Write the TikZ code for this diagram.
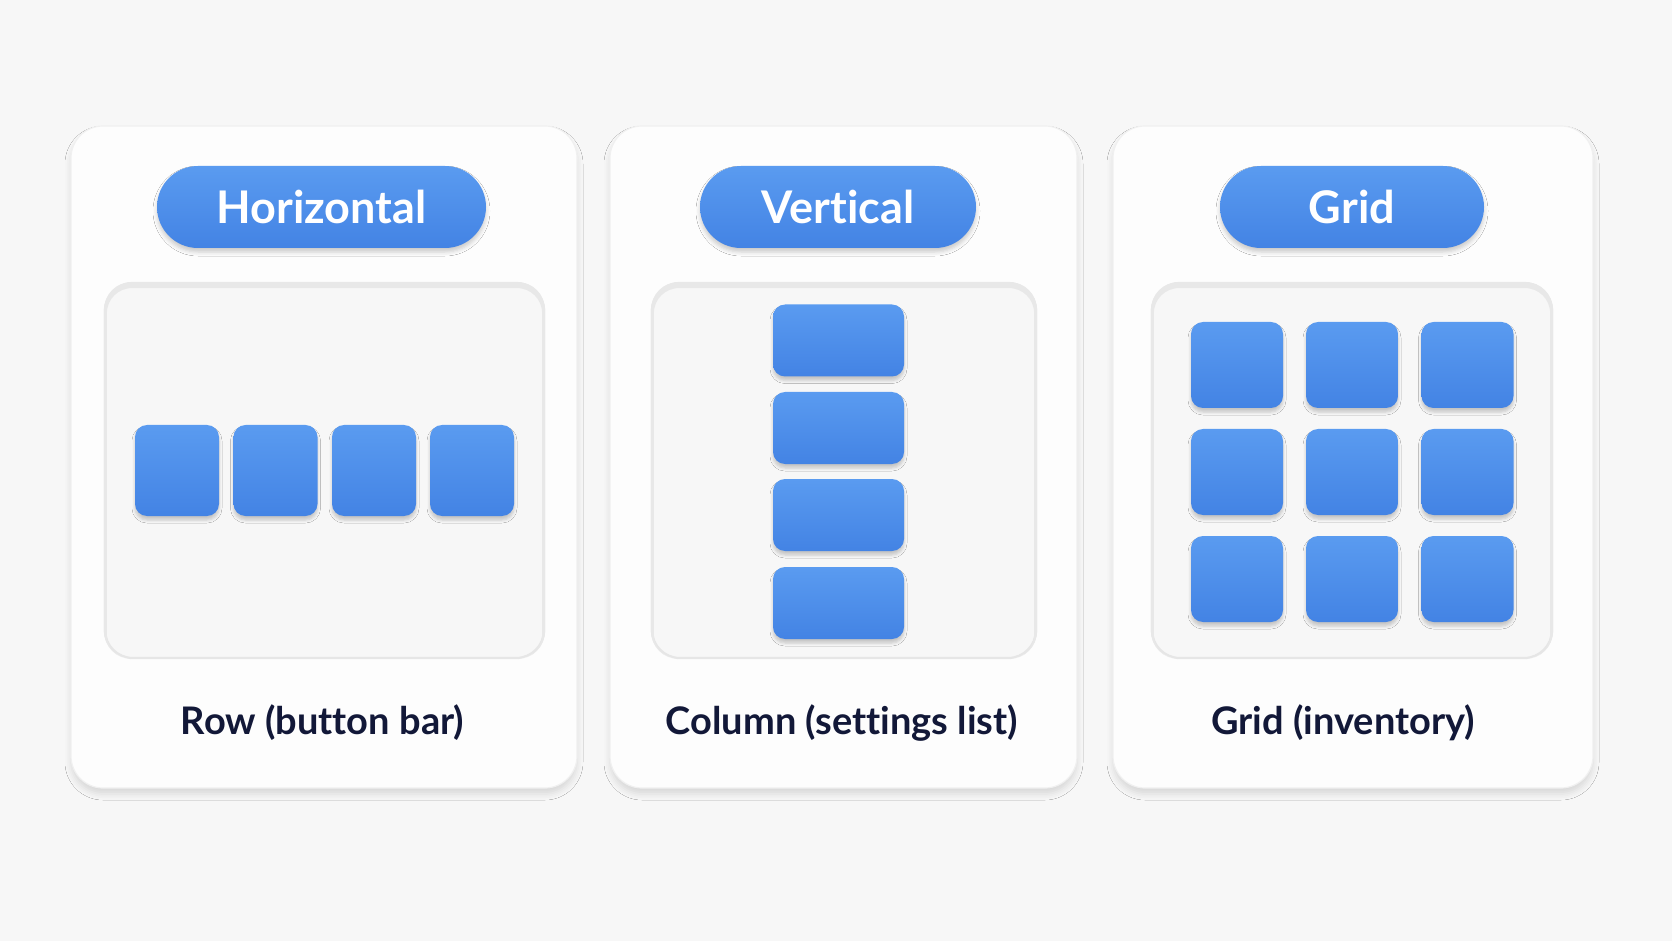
\documentclass[tikz,border=0pt]{standalone}
\usepackage{fontspec}
\setmainfont{Lato}[Ligatures=NoCommon]
\usetikzlibrary{shadows.blur}
\definecolor{bgcol}{HTML}{F7F7F7}
\definecolor{cardcol}{HTML}{FDFDFD}
\definecolor{panelcol}{HTML}{F7F7F7}
\definecolor{panelline}{HTML}{E6E6E6}
\definecolor{blueT}{HTML}{5A9BF0}
\definecolor{blueB}{HTML}{4383E4}
\definecolor{navy}{HTML}{121838}
\begin{document}
\begin{tikzpicture}[x=0.5pt,y=-0.5pt,
  card/.style={draw=black!6, line width=0.6pt, fill=cardcol, rounded corners=16pt,
    blur shadow={shadow xshift=0pt,shadow yshift=-3pt,shadow blur radius=3pt,shadow opacity=12}},
  panel/.style={draw=panelline, line width=1.1pt, fill=panelcol, rounded corners=14pt},
  pill/.style={top color=blueT, bottom color=blueB, rounded corners=20.5pt, minimum height=41pt,
    text=white, font=\bfseries\fontsize{22.5}{28}\selectfont, inner sep=0pt,
    blur shadow={shadow xshift=0pt,shadow yshift=-2pt,shadow blur radius=2pt,shadow opacity=20}},
  blk/.style={top color=blueT, bottom color=blueB, rounded corners=6pt, inner sep=0pt,
    blur shadow={shadow xshift=0pt,shadow yshift=-2pt,shadow blur radius=1.5pt,shadow opacity=20}},
  hsq/.style={blk, minimum width=42pt, minimum height=45.5pt},
  vrect/.style={blk, minimum width=65.5pt, minimum height=36pt},
  gsq/.style={blk, minimum width=46pt, minimum height=43pt},
  captxt/.style={text=navy, font=\bfseries\fontsize{19}{23}\selectfont, anchor=base},
  inset/.style={draw=black!9, line width=3pt, rounded corners=14pt}
]
\fill[bgcol] (0,0) rectangle (1672,941);
\useasboundingbox (0,0) rectangle (1672,941);

% cards
\node[card, minimum width=253pt, minimum height=331pt] (c1) at (324,457) {};
\node[card, minimum width=233.5pt, minimum height=331pt] (c2) at (843.5,457) {};
\node[card, minimum width=240pt, minimum height=331pt] (c3) at (1353,457) {};

% inner panels
\node[panel, minimum width=219.5pt, minimum height=187.5pt] (p1) at (324.5,470.5) {};
\node[panel, minimum width=192pt, minimum height=187.5pt] (p2) at (844,470.5) {};
\node[panel, minimum width=200pt, minimum height=187.5pt] (p3) at (1352,470.5) {};
\foreach \p in {p1,p2,p3}{
  \begin{scope}
    \clip[rounded corners=14pt] (\p.north west) rectangle (\p.south east);
    \draw[inset] ([yshift=-1.6pt]\p.north west) rectangle ([yshift=-1.6pt]\p.south east);
  \end{scope}
}

% pills
\node[pill, minimum width=164.5pt] (t1) at (321.5,207) {Horizontal};
\node[pill, minimum width=138pt] (t2) at (838,207) {Vertical};
\node[pill, minimum width=132pt] (t3) at (1352,207) {Grid};

% horizontal row
\node[hsq] (h1) at (177,470.5) {};
\node[hsq] (h2) at (275.5,470.5) {};
\node[hsq] (h3) at (374,470.5) {};
\node[hsq] (h4) at (472,470.5) {};

% vertical column
\node[vrect] (v1) at (838.5,340.5) {};
\node[vrect] (v2) at (838.5,428) {};
\node[vrect] (v3) at (838.5,515) {};
\node[vrect] (v4) at (838.5,603) {};

% grid
\foreach \r/\yy in {1/365,2/472,3/579}{
  \foreach \c/\xx in {1/1237,2/1352,3/1467.5}{
    \node[gsq] (g\r\c) at (\xx,\yy) {};
  }
}

% captions
\node[captxt] (l1) at (322.5,734) {Row (button bar)};
\node[captxt] (l2) at (842,734) {Column (settings list)};
\node[captxt] (l3) at (1343,734) {Grid (inventory)};
\end{tikzpicture}
\end{document}
